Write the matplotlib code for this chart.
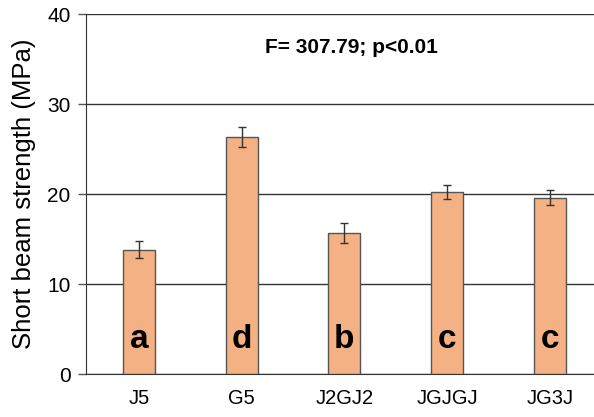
import matplotlib.pyplot as plt

plt.rcParams['font.family'] = ['Liberation Sans', 'DejaVu Sans']

groups = ["J5", "G5", "J2GJ2", "JGJGJ", "JG3J"]
strength = [13.8, 26.3, 15.7, 20.2, 19.6]
errors = [0.95, 1.1, 1.1, 0.8, 0.8]
letters = ["a", "d", "b", "c", "c"]

fig = plt.figure(figsize=(5.94, 4.17), dpi=100)
ax = fig.add_axes([86 / 594, 1 - 374 / 417, (594 - 86) / 594, 360 / 417])

x = range(len(groups))
ax.bar(x, strength, width=0.31, color="#f4b183", edgecolor="#555555", linewidth=1, zorder=3)
ax.errorbar(x, strength, yerr=errors, fmt="none", ecolor="#333333", elinewidth=1,
            capsize=3, capthick=1, zorder=4)
for i, lab in enumerate(letters):
    ax.text(i, 2.9, lab, ha="center", va="baseline", fontsize=24, fontweight="bold", zorder=5)

ax.text(2.07, 36.3, "F= 307.79; p<0.01", ha="center", va="center", fontsize=15, fontweight="bold")

ax.set_ylim(0, 40)
ax.set_xlim(-0.515, 4.43)
ax.set_yticks([0, 10, 20, 30, 40])
ax.grid(axis="y", color="#333333", linewidth=1, zorder=0)
ax.set_xticks(list(x))
ax.set_xticklabels(groups)
ax.tick_params(axis="x", length=0, labelsize=14.5, pad=11)
ax.tick_params(axis="y", length=6, width=1, color="#555555", labelsize=15, pad=5)
ax.set_ylabel("Short beam strength (MPa)", fontsize=18.5, labelpad=8)

for s in ["top", "right"]:
    ax.spines[s].set_visible(False)
ax.spines["left"].set_color("#333333")
ax.spines["bottom"].set_color("#333333")

fig.savefig("out.png", dpi=100)
